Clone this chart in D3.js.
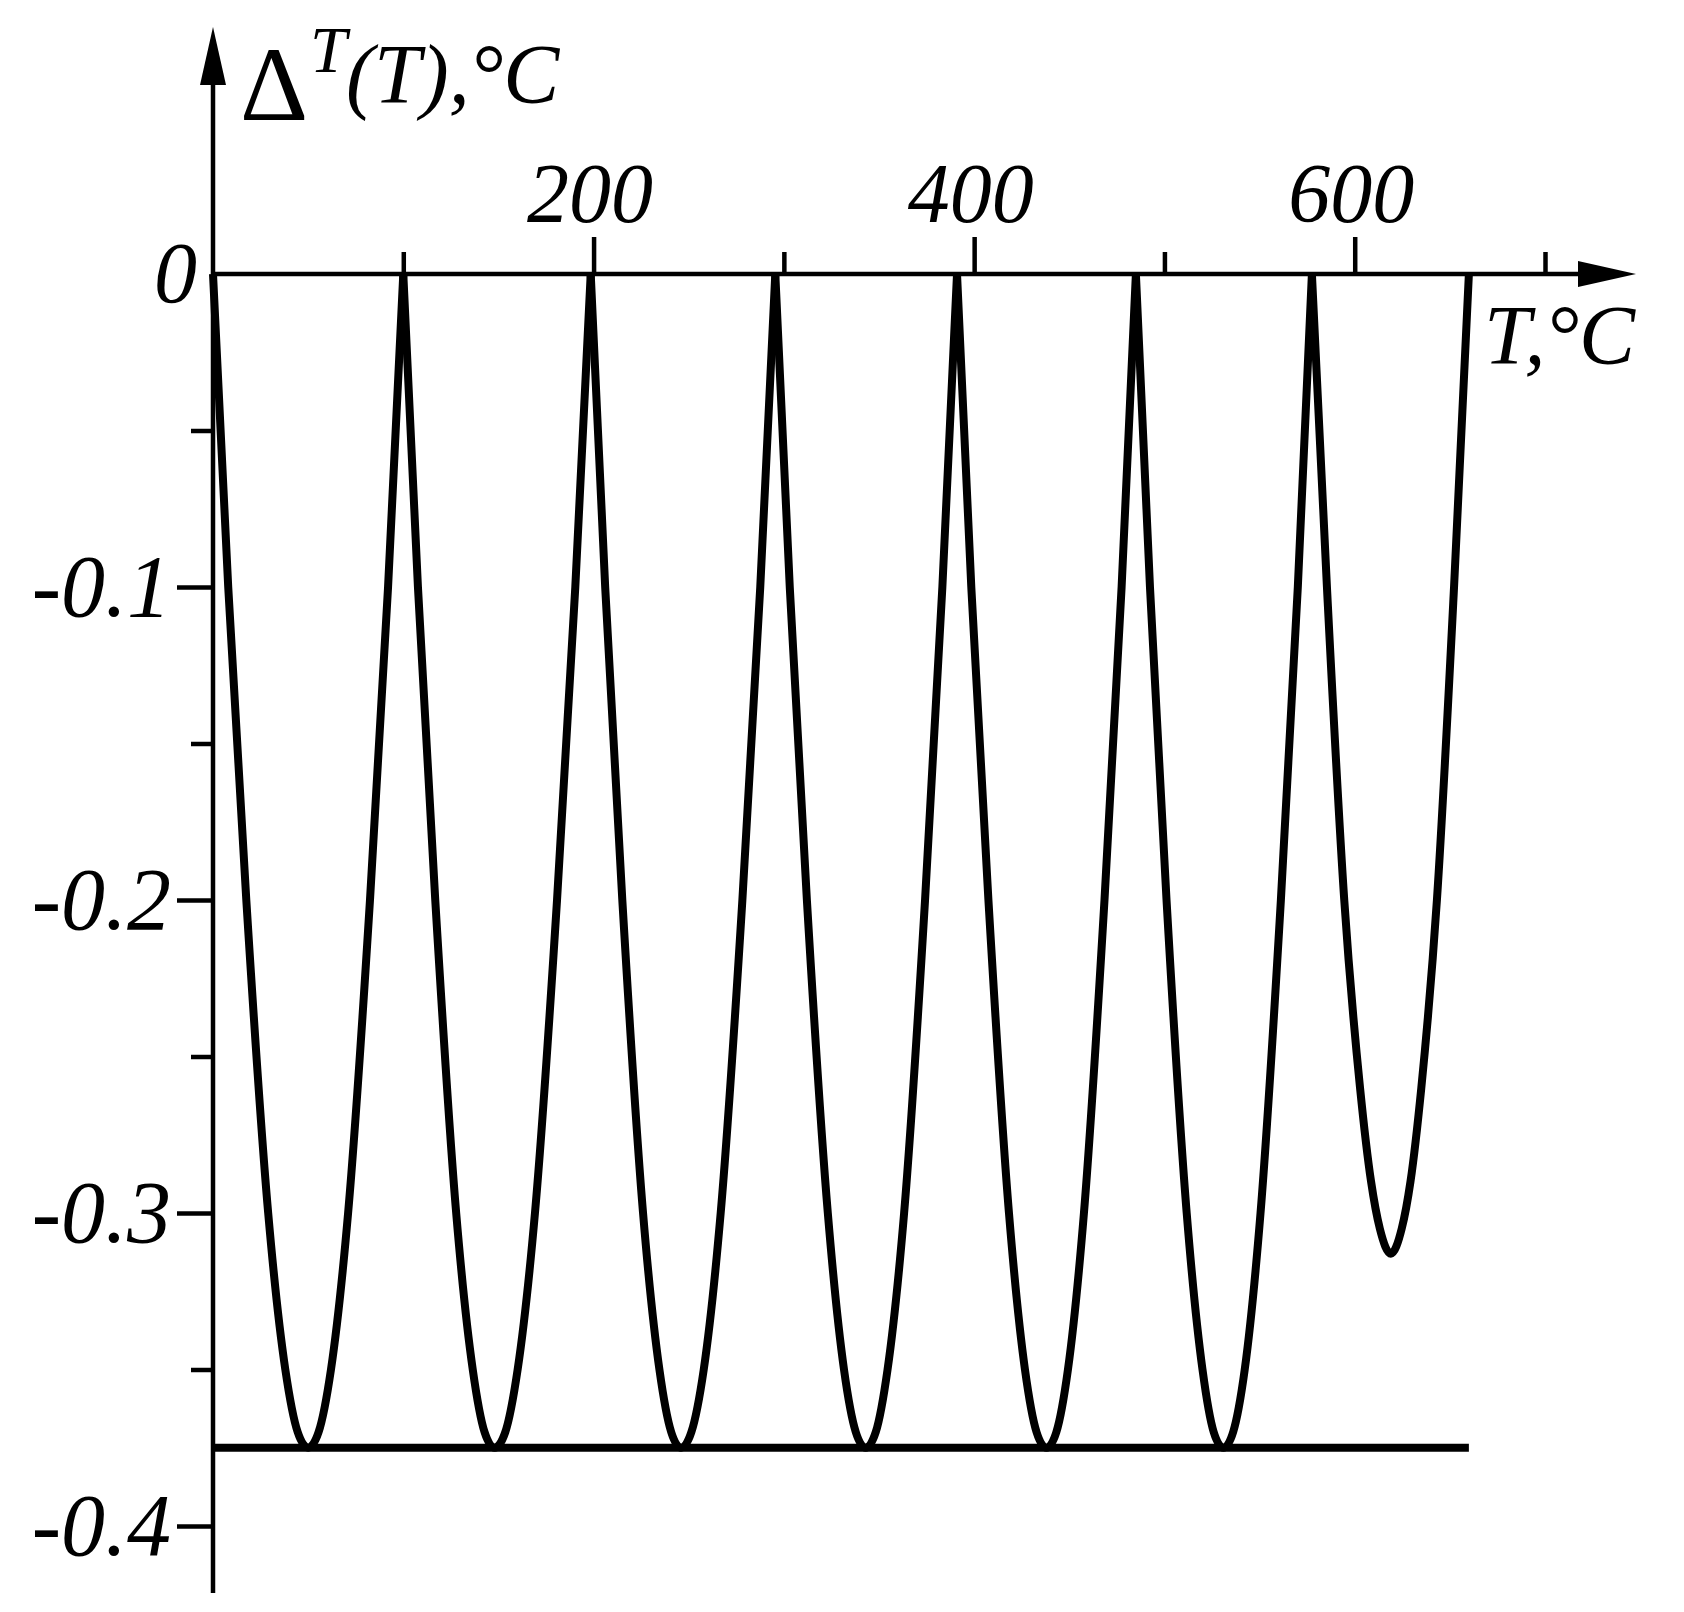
<!DOCTYPE html>
<html>
<head>
<meta charset="utf-8">
<script src="https://cdn.jsdelivr.net/npm/d3@7"></script>
<style>
  body { margin: 0; background: #fff; }
  text { font-family: "Liberation Serif", "Times New Roman", serif; fill: #000; }
</style>
</head>
<body>
<script>
'use strict';

// tick values
let xMajor = [200, 400, 600];
let xMinor = [100, 300, 500, 700];
let yMajor = [-0.1, -0.2, -0.3, -0.4];
let yMinor = [-0.05, -0.15, -0.25, -0.35];

// curve (T in °C)
let arch1T = [0, 8, 17.5, 29, 38, 44.5, 50, 55.5, 62, 71, 82.5, 92, 100];
let arch2T = [100, 107.7, 116.8, 127.8, 136.5, 142.7, 148, 153.6, 160.1, 169.2, 180.8, 190.4, 198.5];
let arch3T = [198.5, 206.1, 215.1, 226, 234.6, 240.8, 246, 251.4, 257.9, 266.8, 278.2, 287.6, 295.5];
let arch4T = [295.5, 303.1, 312.1, 323.1, 331.6, 337.8, 343, 348.3, 354.5, 363.2, 374.2, 383.3, 391];
let arch5T = [391, 398.5, 407.5, 418.3, 426.7, 432.8, 438, 443.2, 449.3, 457.7, 468.5, 477.5, 485];
let arch6T = [485, 492.4, 501.1, 511.7, 520, 525.9, 531, 536.1, 542.2, 550.5, 561.2, 570.1, 577.5];
let arch7T = [577.5, 585.4, 594.5, 602.8, 608.6, 613.2, 619, 624.7, 629.3, 635, 643.2, 652.2, 660];
let fullArchDelta = [0, -0.1, -0.2, -0.3, -0.35, -0.37, -0.375, -0.37, -0.35, -0.3, -0.2, -0.1, 0];
let lastArchDelta = [0, -0.1, -0.2, -0.26, -0.29, -0.305, -0.313, -0.305, -0.29, -0.26, -0.2, -0.1, 0];

// lower bound line
let floorDelta = -0.375;
let floorT = [0, 660];

let width = 1684, height = 1612;

let x = d3.scaleLinear().domain([0, 700]).range([213, 1545]);
let y = d3.scaleLinear().domain([0, -0.4]).range([274, 1526]);

let svg = d3.select('body').append('svg')
	.attr('width', width).attr('height', height);
svg.append('rect').attr('width', width).attr('height', height).attr('fill', '#fff');

// axis lines with arrows
let xEnd = x(700) + 33, xTip = x(700) + 91;
let yEnd = y(0) - 189, yTip = y(0) - 247;
let yBottom = y(-0.4) + 67;

svg.append('line')
	.attr('x1', x(0)).attr('x2', xEnd)
	.attr('y1', y(0)).attr('y2', y(0))
	.attr('stroke', '#000').attr('stroke-width', 4.5);
svg.append('path')
	.attr('d', 'M' + xTip + ',' + y(0) + 'L' + xEnd + ',' + (y(0) - 13) + 'L' + xEnd + ',' + (y(0) + 13) + 'Z')
	.attr('fill', '#000');

svg.append('line')
	.attr('x1', x(0)).attr('x2', x(0))
	.attr('y1', yBottom).attr('y2', yEnd)
	.attr('stroke', '#000').attr('stroke-width', 4.5);
svg.append('path')
	.attr('d', 'M' + x(0) + ',' + yTip + 'L' + (x(0) - 13) + ',' + yEnd + 'L' + (x(0) + 13) + ',' + yEnd + 'Z')
	.attr('fill', '#000');

// x ticks (upward)
let xAxisMajor = d3.axisTop(x).tickValues(xMajor).tickSize(37).tickPadding(15)
	.tickFormat(function(d){ return String(d); });
let xAxisMinor = d3.axisTop(x).tickValues(xMinor).tickSize(22).tickFormat('');

function styleAxis(g, fs) {
	g.select('.domain').remove();
	g.selectAll('.tick line').attr('stroke', '#000').attr('stroke-width', 4.5);
	g.selectAll('.tick text')
		.attr('font-family', '"Liberation Serif", "Times New Roman", serif')
		.attr('font-style', 'italic')
		.attr('font-size', fs)
		.attr('fill', '#000');
}

svg.append('g').attr('transform', 'translate(0,' + y(0) + ')')
	.call(xAxisMajor).call(styleAxis, 84)
	.selectAll('.tick text').attr('dx', -4);
svg.append('g').attr('transform', 'translate(0,' + y(0) + ')')
	.call(xAxisMinor).call(styleAxis, 84);

// y ticks (leftward)
let yAxisMajor = d3.axisLeft(y).tickValues(yMajor).tickSize(36).tickPadding(6)
	.tickFormat(function(d){ return d.toFixed(1); });
let yAxisMinor = d3.axisLeft(y).tickValues(yMinor).tickSize(22).tickFormat('');

svg.append('g').attr('transform', 'translate(' + x(0) + ',0)')
	.call(yAxisMajor).call(styleAxis, 88);
svg.append('g').attr('transform', 'translate(' + x(0) + ',0)')
	.call(yAxisMinor).call(styleAxis, 88);

// origin label
svg.append('text')
	.attr('x', x(0) - 16).attr('y', y(0))
	.attr('dy', '0.32em')
	.attr('text-anchor', 'end')
	.attr('font-style', 'italic')
	.attr('font-size', 86)
	.text('0');

// axis titles
let yTitle = svg.append('text').attr('x', 240).attr('y', 120);
yTitle.append('tspan').attr('font-size', 106).text('Δ');
yTitle.append('tspan').attr('font-size', 66).attr('font-style', 'italic')
	.attr('x', 310).attr('y', 72).text('T');
yTitle.append('tspan').attr('font-size', 84).attr('font-style', 'italic')
	.attr('x', 346).attr('y', 103).text('(T),°C');

svg.append('text')
	.attr('x', 1484).attr('y', 364)
	.attr('font-style', 'italic')
	.attr('font-size', 84)
	.text('T,°C');

// floor line
svg.append('line')
	.attr('x1', x(floorT[0])).attr('x2', x(floorT[1]))
	.attr('y1', y(floorDelta)).attr('y2', y(floorDelta))
	.attr('stroke', '#000').attr('stroke-width', 8);

// curve
let line = d3.line()
	.x(function(d){ return x(d[0]); })
	.y(function(d){ return y(d[1]); })
	.curve(d3.curveMonotoneX);

let arches = [
	[arch1T, fullArchDelta], [arch2T, fullArchDelta], [arch3T, fullArchDelta],
	[arch4T, fullArchDelta], [arch5T, fullArchDelta], [arch6T, fullArchDelta],
	[arch7T, lastArchDelta]
];

arches.forEach(function(a){
	let pts = a[0].map(function(t, i){ return [t, a[1][i]]; });
	svg.append('path')
		.attr('d', line(pts))
		.attr('fill', 'none')
		.attr('stroke', '#000')
		.attr('stroke-width', 8)
		.attr('stroke-linejoin', 'round');
});
</script>
</body>
</html>
